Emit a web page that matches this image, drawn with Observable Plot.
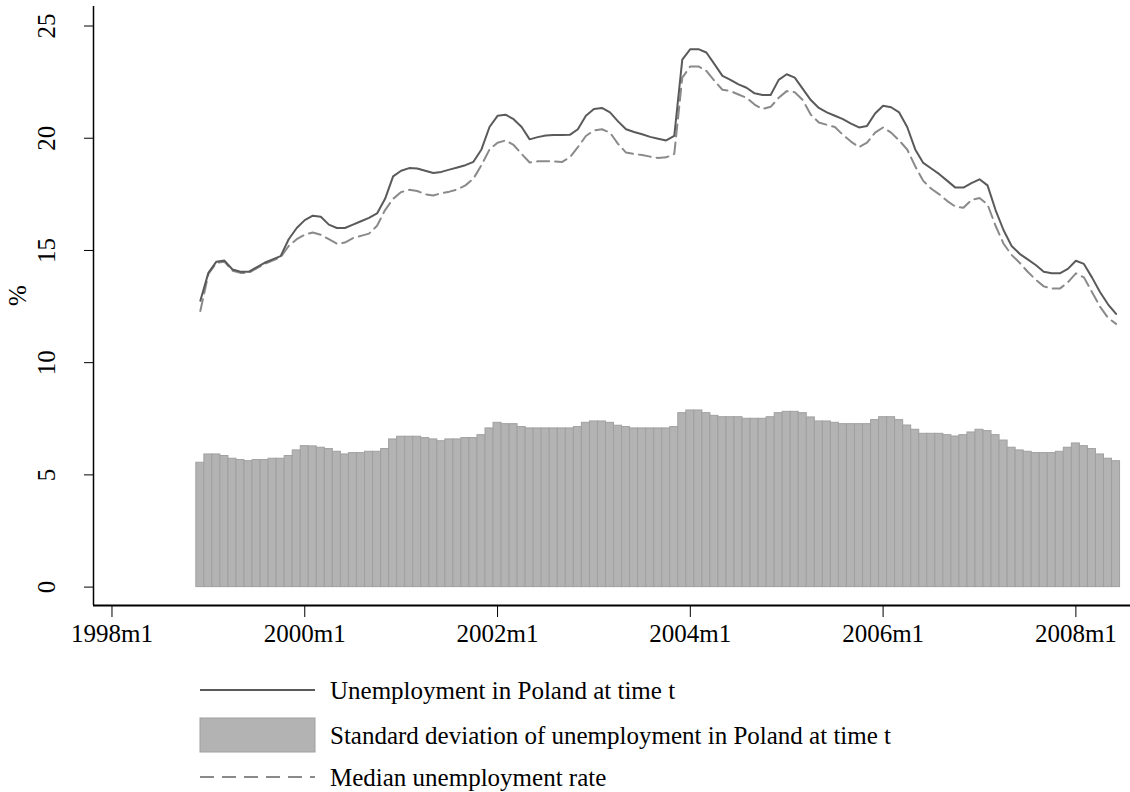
<!DOCTYPE html>
<html><head><meta charset="utf-8">
<script src="https://cdn.jsdelivr.net/npm/d3@7"></script>
<script src="https://cdn.jsdelivr.net/npm/@observablehq/plot@0.6"></script>
<style>
body{margin:0;background:#fff;font-family:"Liberation Serif","Times New Roman",serif;}
#chart svg{display:block;}
#legend svg{display:block;}
</style></head><body>
<div id="chart"></div>
<div id="legend"></div>
<script>
// months counted from 1998m1 (=0); first observation 1998m12
const firstMonthIndex = 11;
const unemployment = [12.76,14.0,14.5,14.55,14.15,14.05,14.05,14.25,14.45,14.6,14.75,15.5,16.0,16.35,16.55,16.5,16.15,16.0,16.0,16.15,
16.3,16.45,16.65,17.3,18.3,18.55,18.67,18.65,18.55,18.45,18.5,18.6,18.7,18.8,18.95,19.5,20.5,21.0,21.05,20.85,
20.5,19.95,20.05,20.12,20.14,20.14,20.15,20.4,21.0,21.3,21.35,21.15,20.75,20.4,20.28,20.18,20.06,19.98,19.9,20.1,
23.5,23.97,23.97,23.82,23.3,22.78,22.6,22.4,22.25,22.0,21.93,21.93,22.6,22.85,22.7,22.2,21.7,21.35,21.15,21.0,
20.85,20.65,20.48,20.55,21.1,21.45,21.38,21.15,20.5,19.5,18.9,18.65,18.4,18.1,17.8,17.8,18.0,18.17,17.9,16.8,
15.9,15.2,14.85,14.6,14.35,14.05,13.98,13.98,14.18,14.54,14.4,13.8,13.15,12.6,12.17];
const medianRate = [12.3,13.95,14.45,14.5,14.1,14.0,14.0,14.2,14.4,14.55,14.7,15.2,15.5,15.7,15.8,15.7,15.5,15.3,15.35,15.55,
15.65,15.75,16.1,16.8,17.3,17.6,17.7,17.65,17.5,17.45,17.55,17.62,17.72,17.9,18.2,18.8,19.5,19.8,19.9,19.7,
19.3,18.92,18.97,18.97,18.97,18.94,19.15,19.6,20.1,20.35,20.4,20.25,19.75,19.36,19.3,19.25,19.18,19.12,19.15,19.3,
22.7,23.2,23.2,23.0,22.56,22.16,22.1,21.95,21.8,21.5,21.3,21.4,21.8,22.1,22.05,21.7,21.05,20.7,20.6,20.5,
20.15,19.85,19.6,19.8,20.25,20.48,20.25,19.9,19.5,18.75,18.1,17.75,17.5,17.2,16.95,16.9,17.25,17.34,17.05,16.1,
15.3,14.8,14.45,14.05,13.7,13.4,13.3,13.3,13.58,13.98,13.8,13.15,12.5,12.0,11.73];
const sdUnemployment = [5.54,5.91,5.91,5.84,5.72,5.66,5.61,5.66,5.66,5.72,5.72,5.84,6.09,6.28,6.27,6.21,6.15,6.03,5.91,5.97,
5.97,6.03,6.03,6.15,6.58,6.70,6.70,6.70,6.64,6.58,6.50,6.58,6.58,6.64,6.64,6.77,7.07,7.32,7.26,7.26,
7.13,7.07,7.07,7.07,7.07,7.07,7.07,7.13,7.32,7.38,7.38,7.32,7.19,7.13,7.07,7.07,7.07,7.07,7.07,7.13,
7.75,7.87,7.87,7.75,7.63,7.57,7.57,7.57,7.50,7.50,7.50,7.57,7.75,7.81,7.81,7.75,7.56,7.38,7.38,7.32,
7.26,7.26,7.26,7.26,7.44,7.57,7.57,7.44,7.20,7.01,6.83,6.83,6.83,6.77,6.71,6.77,6.89,7.01,6.95,6.77,
6.53,6.21,6.09,6.03,5.97,5.97,5.97,6.03,6.21,6.40,6.28,6.15,5.91,5.72,5.61];
const xTicks = [0,24,48,72,96,120];
const xTickLabels = ["1998m1","2000m1","2002m1","2004m1","2006m1","2008m1"];
const yTicks = [0,5,10,15,20,25];
const yLabel = "%";
const legendLabels = ["Unemployment in Poland at time t","Standard deviation of unemployment in Poland at time t","Median unemployment rate"];

const data = unemployment.map((u,k)=>({t:firstMonthIndex+k,u,m:medianRate[k],sd:sdUnemployment[k]}));
const xDomain=[-2.3,126.8], yDomain=[-0.82,25.87];
const FONT='"Liberation Serif","Times New Roman",serif';
const FS=25;

const chart = Plot.plot({
  width:1130, height:660, marginLeft:93, marginRight:0, marginTop:6, marginBottom:55,
  x:{domain:xDomain}, y:{domain:yDomain},
  style:{fontFamily:FONT, fontSize:FS+"px", color:"#000", background:"#fff"},
  marks:[
    Plot.rect(data,{x1:d=>d.t-0.5,x2:d=>d.t+0.5,y1:0,y2:"sd",fill:"#b3b3b3",stroke:"#a0a0a0",strokeWidth:1}),
    Plot.line(data,{x:"t",y:"m",stroke:"#8a8a8a",strokeWidth:2,strokeDasharray:"12,6"}),
    Plot.line(data,{x:"t",y:"u",stroke:"#5a5a5a",strokeWidth:2}),
    Plot.ruleX([xDomain[0]],{stroke:"#000",strokeWidth:1.5}),
    Plot.ruleY([yDomain[0]],{stroke:"#000",strokeWidth:2}),
    Plot.axisX({ticks:xTicks, tickFormat:d=>xTickLabels[xTicks.indexOf(d)], tickSize:12, tickPadding:7, fontSize:FS, label:null, stroke:"#000"}),
    Plot.axisY({ticks:yTicks, tickSize:9, tickFormat:()=>"", label:null}),
    Plot.text(yTicks,{y:d=>d, frameAnchor:"left", dx:-47, rotate:-90, text:d=>String(d), fontSize:FS, textAnchor:"middle", lineAnchor:"middle", fill:"#000"}),
    Plot.text([yLabel],{frameAnchor:"left", dx:-76, rotate:-90, text:d=>d, fontSize:FS, fill:"#000"})
  ]
});
document.getElementById("chart").appendChild(chart);

// legend
const lg = d3.select("#legend").append("svg").attr("width",1130).attr("height",132)
  .style("font-family",FONT);
const rows=[30,75,117];
lg.append("line").attr("x1",200).attr("x2",315).attr("y1",rows[0]).attr("y2",rows[0]).attr("stroke","#5a5a5a").attr("stroke-width",2);
lg.append("rect").attr("x",200).attr("y",rows[1]-17).attr("width",115).attr("height",34).attr("fill","#b3b3b3").attr("stroke","#a0a0a0");
lg.append("line").attr("x1",200).attr("x2",315).attr("y1",rows[2]).attr("y2",rows[2]).attr("stroke","#8a8a8a").attr("stroke-width",2).attr("stroke-dasharray","14,8");
legendLabels.forEach((t,k)=>{
  lg.append("text").attr("x",330).attr("y",rows[k]).attr("dy","0.35em").attr("font-size",FS).attr("fill","#000").text(t);
});
</script>
</body></html>
